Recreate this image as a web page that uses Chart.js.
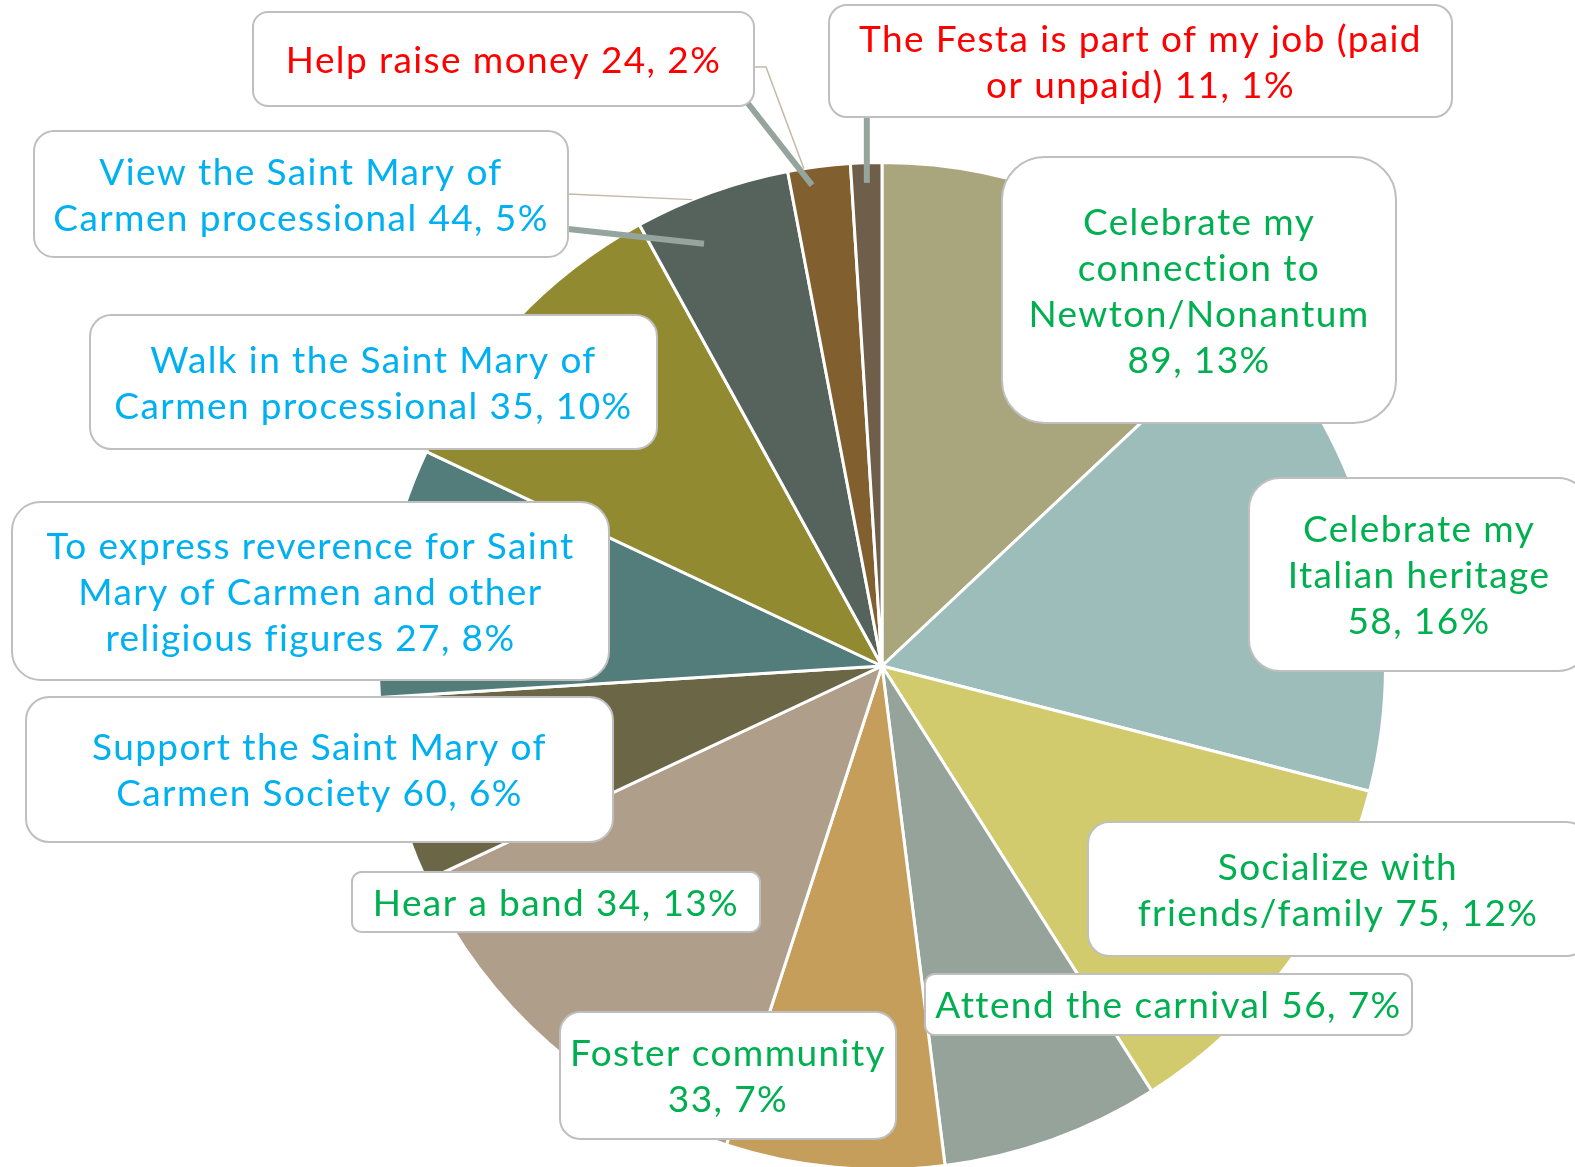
<!DOCTYPE html>
<html>
<head>
<meta charset="utf-8">
<script src="https://cdn.jsdelivr.net/npm/chart.js@4.4.0/dist/chart.umd.min.js"></script>
<style>
  html, body { margin: 0; padding: 0; background: #fff; overflow: hidden; }
  #wrap { position: relative; width: 1575px; height: 1180px; }
</style>
</head>
<body>
<div id="wrap"><canvas id="festaChart"></canvas></div>
<script>
// Datos del gráfico
const categories = [
  'Celebrate my connection to Newton/Nonantum',
  'Celebrate my Italian heritage',
  'Socialize with friends/family',
  'Attend the carnival',
  'Foster community',
  'Hear a band',
  'Support the Saint Mary of Carmen Society',
  'To express reverence for Saint Mary of Carmen and other religious figures',
  'Walk in the Saint Mary of Carmen processional',
  'View the Saint Mary of Carmen processional',
  'Help raise money',
  'The Festa is part of my job (paid or unpaid)'
];
const counts = [89, 58, 75, 56, 33, 34, 60, 27, 35, 44, 24, 11];
const percents = [13, 16, 12, 7, 7, 13, 6, 8, 10, 5, 2, 1];

const sliceColors = ['#A9A57C', '#9DBDBB', '#D1CB6D', '#95A39B', '#C69E5B', '#AF9E89',
                     '#6A6646', '#527D7A', '#928A30', '#56635C', '#825F2F', '#6E5E4A'];
const GREEN = '#00B050', BLUE = '#00B0F0', RED = '#FF0000';
const labelColors = [GREEN, GREEN, GREEN, GREEN, GREEN, GREEN, BLUE, BLUE, BLUE, BLUE, RED, RED];

// Cajas de etiquetas (x, y, ancho, alto, palabras por línea)
const boxes = [
  { x: 1002, y: 157, w: 394, h: 266, words: [2, 2, 1, 2] },
  { x: 1249, y: 478, w: 340, h: 193, words: [2, 2, 2] },
  { x: 1088, y: 822, w: 500, h: 134, words: [2, 3] },
  { x: 925,  y: 974, w: 487, h: 61,  words: [5] },
  { x: 560,  y: 1012, w: 336, h: 127, words: [2, 2] },
  { x: 352,  y: 872, w: 408, h: 60,  words: [5] },
  { x: 26,   y: 697, w: 587, h: 145, words: [5, 4] },
  { x: 12,   y: 502, w: 597, h: 178, words: [5, 5, 4] },
  { x: 90,   y: 315, w: 567, h: 134, words: [6, 4] },
  { x: 34,   y: 131, w: 534, h: 126, words: [5, 4] },
  { x: 253,  y: 12,  w: 501, h: 94,  words: [5] },
  { x: 829,  y: 5,   w: 623, h: 112, words: [8, 4] }
];

// Líneas guía: punto de inicio y fracción del ángulo dentro del sector
const leaders = [
  { i: 9,  pts: [[568, 229]], frac: 0.33, r: 0.91, width: 6, color: '#95A59E' },
  { i: 9,  pts: [[568, 194]], frac: 0.37, r: 1.0, width: 1.5, color: '#C4B9A4' },
  { i: 10, pts: [[746, 101]], frac: 0.35, r: 0.965, width: 6, color: '#95A59E' },
  { i: 10, pts: [[754, 67], [766, 67]], frac: 0.26, r: 1.0, width: 1.5, color: '#C4B9A4' },
  { i: 11, pts: null, frac: 0.5, r: 0.96, width: 6, color: '#95A59E', fromY: 117 }
];

const FONT = '37px Lato, "Noto Sans", sans-serif';
const LINE_H = 46;

function roundBox(ctx, x, y, w, h) {
  const r = Math.min(w, h) * 0.16;
  ctx.beginPath();
  ctx.moveTo(x + r, y);
  ctx.arcTo(x + w, y, x + w, y + h, r);
  ctx.arcTo(x + w, y + h, x, y + h, r);
  ctx.arcTo(x, y + h, x, y, r);
  ctx.arcTo(x, y, x + w, y, r);
  ctx.closePath();
}

const calloutPlugin = {
  id: 'callouts',
  afterDatasetsDraw(chart) {
    const ctx = chart.ctx;
    const arcs = chart.getDatasetMeta(0).data;

    // líneas guía
    leaders.forEach(l => {
      const arc = arcs[l.i];
      const a = arc.startAngle + (arc.endAngle - arc.startAngle) * l.frac;
      const ex = arc.x + Math.cos(a) * arc.outerRadius * l.r;
      const ey = arc.y + Math.sin(a) * arc.outerRadius * l.r;
      const pts = l.pts ? l.pts : [[ex, l.fromY]];
      ctx.save();
      ctx.strokeStyle = l.color;
      ctx.lineWidth = l.width;
      ctx.beginPath();
      ctx.moveTo(pts[0][0], pts[0][1]);
      for (let k = 1; k < pts.length; k++) ctx.lineTo(pts[k][0], pts[k][1]);
      ctx.lineTo(ex, ey);
      ctx.stroke();
      ctx.restore();
    });

    // cajas con texto
    ctx.save();
    ctx.font = FONT;
    if ('letterSpacing' in ctx) ctx.letterSpacing = '1.4px';
    ctx.textAlign = 'center';
    ctx.textBaseline = 'middle';
    boxes.forEach((b, i) => {
      roundBox(ctx, b.x, b.y, b.w, b.h);
      ctx.fillStyle = '#ffffff';
      ctx.fill();
      ctx.lineWidth = 2;
      ctx.strokeStyle = '#BFBFBF';
      ctx.stroke();

      const words = (categories[i] + ' ' + counts[i] + ', ' + percents[i] + '%').split(' ');
      const lines = [];
      let p = 0;
      b.words.forEach(n => { lines.push(words.slice(p, p + n).join(' ')); p += n; });
      const cx = b.x + b.w / 2;
      const cy = b.y + b.h / 2;
      ctx.fillStyle = labelColors[i];
      lines.forEach((t, k) => {
        ctx.fillText(t, cx, cy + 2 + (k - (lines.length - 1) / 2) * LINE_H);
      });
    });
    ctx.restore();
  }
};

const ctxFesta = document.getElementById('festaChart').getContext('2d');
new Chart(ctxFesta, {
  type: 'pie',
  data: {
    labels: categories,
    datasets: [{
      data: percents,
      backgroundColor: sliceColors,
      borderColor: '#ffffff',
      borderWidth: 3,
      hoverOffset: 0
    }]
  },
  options: {
    responsive: true,
    maintainAspectRatio: false,
    animation: false,
    events: [],
    layout: {
      padding: { top: 161, bottom: 9, left: 377, right: 188 }
    },
    plugins: {
      legend: { display: false },
      tooltip: { enabled: false }
    }
  },
  plugins: [calloutPlugin]
});
</script>
</body>
</html>
